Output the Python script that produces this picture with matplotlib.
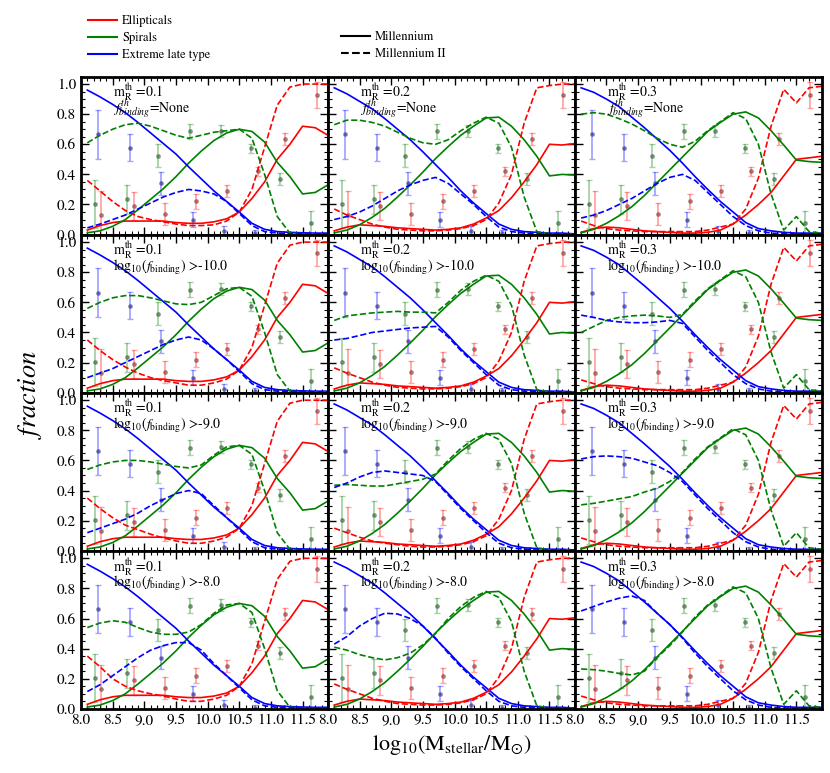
from matplotlib.lines import Line2D
from matplotlib.ticker import MultipleLocator
import matplotlib.pyplot as plt

plt.rcParams['font.family'] = 'STIXGeneral'
plt.rcParams['mathtext.fontset'] = 'stix'

# model mass grid, log10(Mstellar/Msun)
mass = [8.1, 8.3, 8.5, 8.7, 8.9, 9.1, 9.3, 9.5, 9.7, 9.9,
        10.1, 10.3, 10.5, 10.7, 10.9, 11.1, 11.3, 11.5, 11.7, 11.9]

m_th = ['0.1', '0.2', '0.3']
f_th = ['None', '-10.0', '-9.0', '-8.0']

# observed fractions (same in every panel)
obs_x_ell = [8.32, 8.83, 9.32, 9.82, 10.31, 10.79, 11.22, 11.72]
obs_y_ell = [0.13, 0.19, 0.138, 0.22, 0.287, 0.42, 0.632, 0.928]
obs_e_ell = [0.16, 0.095, 0.075, 0.05, 0.04, 0.03, 0.04, 0.085]
obs_x_sp = [8.22, 8.73, 9.22, 9.72, 10.21, 10.69, 11.14, 11.64]
obs_y_sp = [0.205, 0.235, 0.525, 0.685, 0.69, 0.575, 0.37, 0.078]
obs_e_sp = [0.16, 0.095, 0.075, 0.05, 0.04, 0.03, 0.04, 0.08]
obs_x_elt = [8.27, 8.78, 9.27, 9.77, 10.26, 10.75]
obs_y_elt = [0.665, 0.577, 0.34, 0.10, 0.025, 0.008]
obs_e_elt = [0.16, 0.09, 0.075, 0.05, 0.035, 0.02]

# Millennium (solid), one curve per m_R threshold
ms_ell = [
    [0.03, 0.06, 0.08, 0.09, 0.09, 0.09, 0.09, 0.08, 0.075, 0.075,
     0.085, 0.105, 0.15, 0.24, 0.35, 0.50, 0.60, 0.72, 0.71, 0.66],
    [0.025, 0.05, 0.065, 0.06, 0.055, 0.045, 0.04, 0.035, 0.03, 0.035,
     0.045, 0.07, 0.11, 0.16, 0.245, 0.35, 0.465, 0.60, 0.595, 0.605],
    [0.015, 0.04, 0.05, 0.045, 0.035, 0.025, 0.02, 0.015, 0.01, 0.01,
     0.015, 0.03, 0.07, 0.13, 0.20, 0.28, 0.39, 0.50, 0.51, 0.52]]
ms_sp = [
    [0.012, 0.025, 0.055, 0.10, 0.165, 0.235, 0.305, 0.385, 0.475, 0.555,
     0.625, 0.675, 0.70, 0.685, 0.615, 0.48, 0.385, 0.27, 0.28, 0.33],
    [0.012, 0.03, 0.065, 0.115, 0.175, 0.25, 0.33, 0.415, 0.505, 0.585,
     0.66, 0.72, 0.775, 0.78, 0.72, 0.63, 0.52, 0.39, 0.40, 0.395],
    [0.012, 0.035, 0.075, 0.125, 0.185, 0.26, 0.345, 0.43, 0.515, 0.60,
     0.685, 0.745, 0.80, 0.815, 0.775, 0.69, 0.595, 0.495, 0.485, 0.48]]
ms_elt = [
    [0.96, 0.915, 0.865, 0.81, 0.745, 0.675, 0.605, 0.535, 0.45, 0.37,
     0.29, 0.22, 0.15, 0.075, 0.035, 0.02, 0.015, 0.012, 0.01, 0.01],
    [0.975, 0.935, 0.885, 0.835, 0.77, 0.70, 0.63, 0.55, 0.465, 0.38,
     0.29, 0.21, 0.14, 0.07, 0.035, 0.02, 0.015, 0.01, 0.01, 0.005],
    [0.975, 0.945, 0.90, 0.85, 0.78, 0.71, 0.635, 0.56, 0.475, 0.385,
     0.30, 0.22, 0.15, 0.08, 0.04, 0.025, 0.015, 0.01, 0.01, 0.01]]

# Millennium II (dashed), [f_binding row][m_R column]
mii_ell = [
    [[0.36, 0.29, 0.22, 0.16, 0.12, 0.10, 0.085, 0.07, 0.06, 0.06, 0.065, 0.09, 0.15, 0.30, 0.58, 0.86, 0.98, 1.0, 1.0, 1.0],
     [0.17, 0.13, 0.10, 0.07, 0.05, 0.035, 0.03, 0.025, 0.025, 0.03, 0.04, 0.06, 0.10, 0.21, 0.40, 0.74, 0.975, 0.99, 1.0, 1.0],
     [0.09, 0.06, 0.04, 0.03, 0.025, 0.02, 0.02, 0.02, 0.02, 0.02, 0.03, 0.05, 0.07, 0.17, 0.375, 0.72, 0.965, 0.875, 0.975, 0.985]],
    [[0.35, 0.28, 0.22, 0.17, 0.13, 0.10, 0.08, 0.065, 0.05, 0.05, 0.065, 0.09, 0.15, 0.30, 0.58, 0.86, 0.98, 1.0, 1.0, 1.0],
     [0.165, 0.13, 0.10, 0.07, 0.05, 0.035, 0.03, 0.025, 0.025, 0.03, 0.04, 0.06, 0.10, 0.21, 0.40, 0.74, 0.975, 0.99, 1.0, 1.0],
     [0.085, 0.06, 0.04, 0.03, 0.025, 0.02, 0.02, 0.02, 0.02, 0.02, 0.03, 0.05, 0.07, 0.17, 0.375, 0.72, 0.965, 0.875, 0.975, 0.985]],
    [[0.35, 0.28, 0.22, 0.17, 0.14, 0.11, 0.085, 0.065, 0.05, 0.05, 0.065, 0.09, 0.15, 0.30, 0.58, 0.86, 0.98, 1.0, 1.0, 1.0],
     [0.15, 0.12, 0.09, 0.065, 0.05, 0.04, 0.03, 0.025, 0.025, 0.03, 0.04, 0.06, 0.10, 0.21, 0.40, 0.74, 0.975, 0.99, 1.0, 1.0],
     [0.085, 0.06, 0.04, 0.03, 0.025, 0.02, 0.02, 0.02, 0.02, 0.02, 0.03, 0.05, 0.07, 0.17, 0.375, 0.72, 0.965, 0.875, 0.975, 0.985]],
    [[0.35, 0.28, 0.20, 0.15, 0.12, 0.10, 0.085, 0.065, 0.05, 0.05, 0.065, 0.09, 0.15, 0.30, 0.58, 0.86, 0.98, 1.0, 1.0, 1.0],
     [0.165, 0.13, 0.10, 0.07, 0.05, 0.035, 0.03, 0.025, 0.025, 0.03, 0.04, 0.06, 0.10, 0.21, 0.40, 0.74, 0.975, 0.99, 1.0, 1.0],
     [0.085, 0.06, 0.04, 0.03, 0.025, 0.02, 0.02, 0.02, 0.02, 0.02, 0.03, 0.05, 0.07, 0.17, 0.375, 0.72, 0.965, 0.875, 0.975, 0.985]]]
mii_sp = [
    [[0.61, 0.66, 0.70, 0.73, 0.74, 0.72, 0.69, 0.66, 0.64, 0.66, 0.68, 0.69, 0.70, 0.64, 0.40, 0.12, 0.01, 0.005, 0.005, 0.005],
     [0.73, 0.76, 0.76, 0.745, 0.72, 0.68, 0.64, 0.61, 0.60, 0.63, 0.69, 0.74, 0.78, 0.74, 0.58, 0.25, 0.02, 0.005, 0.005, 0.005],
     [0.80, 0.81, 0.80, 0.77, 0.735, 0.69, 0.64, 0.60, 0.58, 0.62, 0.69, 0.75, 0.81, 0.77, 0.60, 0.27, 0.03, 0.12, 0.02, 0.01]],
    [[0.56, 0.60, 0.63, 0.645, 0.645, 0.63, 0.61, 0.59, 0.585, 0.60, 0.645, 0.69, 0.70, 0.64, 0.40, 0.12, 0.01, 0.005, 0.005, 0.005],
     [0.48, 0.51, 0.52, 0.53, 0.535, 0.54, 0.535, 0.535, 0.53, 0.60, 0.68, 0.74, 0.78, 0.74, 0.58, 0.25, 0.02, 0.005, 0.005, 0.005],
     [0.40, 0.44, 0.48, 0.50, 0.51, 0.515, 0.51, 0.50, 0.52, 0.61, 0.69, 0.75, 0.81, 0.77, 0.60, 0.27, 0.03, 0.12, 0.02, 0.01]],
    [[0.54, 0.57, 0.59, 0.60, 0.60, 0.59, 0.575, 0.56, 0.55, 0.57, 0.635, 0.69, 0.70, 0.64, 0.40, 0.12, 0.01, 0.005, 0.005, 0.005],
     [0.435, 0.44, 0.435, 0.43, 0.43, 0.445, 0.46, 0.475, 0.51, 0.60, 0.68, 0.74, 0.78, 0.74, 0.58, 0.25, 0.02, 0.005, 0.005, 0.005],
     [0.305, 0.315, 0.33, 0.345, 0.36, 0.39, 0.415, 0.46, 0.52, 0.61, 0.69, 0.75, 0.81, 0.77, 0.60, 0.27, 0.03, 0.12, 0.02, 0.01]],
    [[0.54, 0.57, 0.585, 0.575, 0.54, 0.51, 0.495, 0.495, 0.51, 0.56, 0.635, 0.69, 0.70, 0.64, 0.40, 0.12, 0.01, 0.005, 0.005, 0.005],
     [0.41, 0.39, 0.36, 0.34, 0.325, 0.34, 0.37, 0.425, 0.50, 0.60, 0.68, 0.74, 0.78, 0.74, 0.58, 0.25, 0.02, 0.005, 0.005, 0.005],
     [0.265, 0.26, 0.25, 0.235, 0.225, 0.25, 0.34, 0.42, 0.51, 0.61, 0.69, 0.75, 0.81, 0.77, 0.60, 0.27, 0.03, 0.12, 0.02, 0.01]]]
mii_elt = [
    [[0.045, 0.07, 0.10, 0.13, 0.17, 0.21, 0.25, 0.28, 0.30, 0.29, 0.27, 0.22, 0.14, 0.06, 0.02, 0.01, 0.005, 0.005, 0.005, 0.005],
     [0.10, 0.12, 0.15, 0.19, 0.24, 0.29, 0.33, 0.36, 0.38, 0.34, 0.27, 0.20, 0.12, 0.05, 0.02, 0.01, 0.005, 0.005, 0.005, 0.005],
     [0.11, 0.13, 0.16, 0.20, 0.24, 0.29, 0.34, 0.38, 0.40, 0.36, 0.28, 0.20, 0.12, 0.06, 0.025, 0.01, 0.005, 0.005, 0.005, 0.005]],
    [[0.10, 0.13, 0.16, 0.20, 0.24, 0.28, 0.32, 0.35, 0.37, 0.35, 0.29, 0.22, 0.14, 0.06, 0.02, 0.01, 0.005, 0.005, 0.005, 0.005],
     [0.35, 0.36, 0.38, 0.40, 0.41, 0.42, 0.43, 0.435, 0.44, 0.37, 0.28, 0.20, 0.12, 0.05, 0.02, 0.01, 0.005, 0.005, 0.005, 0.005],
     [0.515, 0.50, 0.48, 0.47, 0.465, 0.465, 0.47, 0.48, 0.46, 0.37, 0.28, 0.20, 0.12, 0.06, 0.025, 0.01, 0.005, 0.005, 0.005, 0.005]],
    [[0.12, 0.15, 0.18, 0.21, 0.25, 0.30, 0.34, 0.38, 0.40, 0.38, 0.30, 0.22, 0.14, 0.06, 0.02, 0.01, 0.005, 0.005, 0.005, 0.005],
     [0.42, 0.45, 0.49, 0.52, 0.53, 0.52, 0.51, 0.50, 0.46, 0.37, 0.28, 0.20, 0.12, 0.05, 0.02, 0.01, 0.005, 0.005, 0.005, 0.005],
     [0.61, 0.625, 0.63, 0.625, 0.615, 0.59, 0.565, 0.52, 0.46, 0.37, 0.28, 0.20, 0.12, 0.06, 0.025, 0.01, 0.005, 0.005, 0.005, 0.005]],
    [[0.115, 0.16, 0.22, 0.28, 0.34, 0.39, 0.42, 0.44, 0.44, 0.39, 0.30, 0.22, 0.14, 0.06, 0.02, 0.01, 0.005, 0.005, 0.005, 0.005],
     [0.43, 0.48, 0.55, 0.60, 0.635, 0.63, 0.60, 0.55, 0.47, 0.37, 0.28, 0.20, 0.12, 0.05, 0.02, 0.01, 0.005, 0.005, 0.005, 0.005],
     [0.65, 0.68, 0.71, 0.735, 0.75, 0.72, 0.635, 0.56, 0.47, 0.37, 0.28, 0.20, 0.12, 0.06, 0.025, 0.01, 0.005, 0.005, 0.005, 0.005]]]


def draw_obs(ax):
    for xs, ys, es, c in [(obs_x_ell, obs_y_ell, obs_e_ell, 'r'),
                          (obs_x_sp, obs_y_sp, obs_e_sp, 'g'),
                          (obs_x_elt, obs_y_elt, obs_e_elt, 'b')]:
        ax.errorbar(xs, ys, yerr=es, fmt='none', ecolor=c, alpha=0.35,
                    elinewidth=1.3, capsize=2.5, capthick=1.0)
        ax.plot(xs, ys, 'o', color=c, mec='0.35', ms=2.5, alpha=0.55)


fig, axes = plt.subplots(4, 3, figsize=(8.3, 7.73), dpi=100,
                         sharex=True, sharey=True)
fig.subplots_adjust(left=0.0976, right=0.990, bottom=0.083, top=0.901,
                    wspace=0, hspace=0)

for i in range(4):
    for j in range(3):
        ax = axes[i, j]
        draw_obs(ax)
        ax.plot(mass, ms_ell[j], '-', color='r', lw=1.2)
        ax.plot(mass, ms_sp[j], '-', color='g', lw=1.2)
        ax.plot(mass, ms_elt[j], '-', color='b', lw=1.2)
        ax.plot(mass, mii_ell[i][j], '--', color='r', lw=1.2)
        ax.plot(mass, mii_sp[i][j], '--', color='g', lw=1.2)
        ax.plot(mass, mii_elt[i][j], '--', color='b', lw=1.2)

        ax.text(0.13, 0.87, r'$\rm m_R^{th}$ =' + m_th[j],
                transform=ax.transAxes, fontsize=10, va='baseline')
        if i == 0:
            line2 = r'$f_{binding}^{th}$=' + f_th[i]
        else:
            line2 = r'$\rm log_{10}(\mathit{f}_{binding})$ >' + f_th[i]
        ax.text(0.13, 0.77, line2, transform=ax.transAxes,
                fontsize=10, va='baseline')

        ax.set_xlim(8.0, 11.9)
        ax.set_ylim(0.0, 1.05)
        ax.xaxis.set_major_locator(MultipleLocator(0.5))
        ax.xaxis.set_minor_locator(MultipleLocator(0.1))
        ax.yaxis.set_major_locator(MultipleLocator(0.2))
        ax.yaxis.set_minor_locator(MultipleLocator(0.05))
        ax.tick_params(which='both', direction='in', top=True, right=True,
                       labelsize=11)
        ax.tick_params(which='major', length=6, width=1)
        ax.tick_params(which='minor', length=3, width=0.8)
        for sp in ax.spines.values():
            sp.set_linewidth(2)
        ax.set_xticks([8.0, 8.5, 9.0, 9.5, 10.0, 10.5, 11.0, 11.5])
        ax.set_yticks([0.0, 0.2, 0.4, 0.6, 0.8, 1.0])

fig.text(0.544, 0.036, r'$\rm log_{10}(M_{stellar}/M_{\odot})$',
         ha='center', va='center', fontsize=16)
fig.text(0.036, 0.49, r'$fraction$', ha='center', va='center',
         rotation=90, fontsize=19)

type_lines = [Line2D([0], [0], color='r', label='Ellipticals'),
              Line2D([0], [0], color='g', label='Spirals'),
              Line2D([0], [0], color='b', label='Extreme late type')]
sim_lines = [Line2D([0], [0], color='k', ls='-', label='Millennium'),
             Line2D([0], [0], color='k', ls='--', label='Millennium II')]

fig.legend(handles=type_lines, loc='upper left',
           bbox_to_anchor=(0.093, 0.995), frameon=False, fontsize=9,
           handlelength=2.3, handletextpad=0.4, labelspacing=0.4)
fig.legend(handles=sim_lines, loc='upper left',
           bbox_to_anchor=(0.397, 0.974), frameon=False, fontsize=9,
           handlelength=2.3, handletextpad=0.4, labelspacing=0.4)

fig.savefig('out.png', dpi=100)
